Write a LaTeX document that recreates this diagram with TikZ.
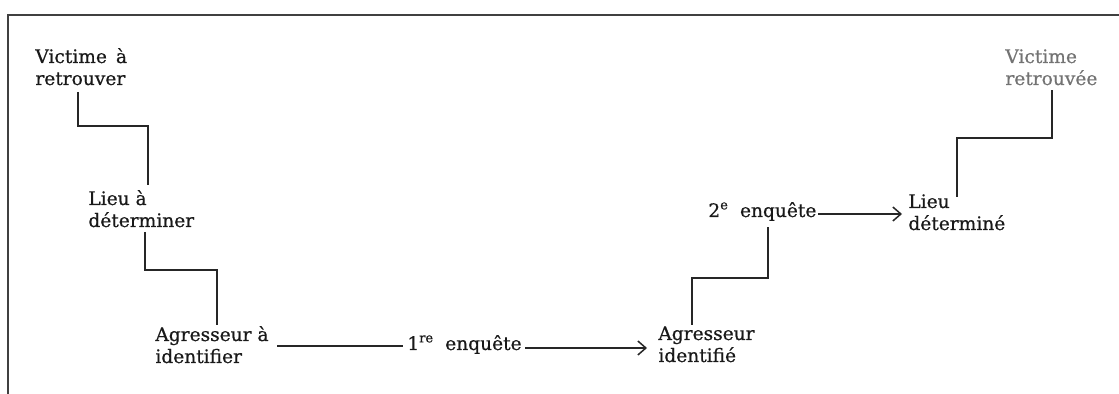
\documentclass[tikz,border=0pt]{standalone}
\usepackage{fontspec}
\setmainfont{DejaVu Serif}
\newfontfamily\printface[RawFeature={embolden=0.6}]{DejaVu Serif}
\usetikzlibrary{arrows.meta}
\begin{document}
\begin{tikzpicture}[x=0.5pt,y=-0.5pt,
  lbl/.style={anchor=base west,inner sep=0pt,align=left,text=black!90,
    font=\printface\fontsize{9.3}{11}\selectfont},
  faded/.style={lbl,text=black!55},
  link/.style={draw=black!85,line width=0.75pt},
  flow/.style={link,-{Straight Barb[length=4pt,width=7pt,line width=0.75pt]}},
  frame/.style={draw=black!75,line width=1.1pt}]
\useasboundingbox (0,0) rectangle (1119,394);
% open frame: top and left edges only
\draw[frame] (1119,15) -- (8,15) -- (8,394);

% states of the search (positioned at the baseline of their last line)
\node[lbl] (vr) at (35,85) {Victime \,à\\retrouver};
\node[lbl] (ld) at (88,227) {Lieu à\\déterminer};
\node[lbl] (ai) at (155,363) {Agresseur à\\identifier};
\node[lbl] (aid) at (658,362) {Agresseur\\identifié};
\node[lbl] (lde) at (908,230) {Lieu\\déterminé};
\node[faded] (vre) at (1005,85) {Victime\\retrouvée};

% the two inquiries
\node[lbl] (e1) at (407,350) {1\textsuperscript{re}\; enquête};
\node[lbl] (e2) at (708,217) {2\textsuperscript{e}\; enquête};

% attachment points of the stepped links
\coordinate (p1) at (78,92);   \coordinate (q1) at (148,185);
\coordinate (p2) at (145,232); \coordinate (q2) at (217,325);
\coordinate (p3) at (692,325); \coordinate (q3) at (768,227);
\coordinate (p4) at (957,197); \coordinate (q4) at (1052,90);

\draw[link] (p1) -- (78,126) -| (q1);
\draw[link] (p2) -- (145,270) -| (q2);
\draw[link] (p3) -- (692,278) -| (q3);
\draw[link] (p4) -- (957,138) -| (q4);

% inquiry arrows
\coordinate (a1) at (277,346);
\coordinate (b1) at (403,346);
\coordinate (a2) at (525,348);
\coordinate (b2) at (647,348);
\coordinate (a3) at (818,214);
\coordinate (b3) at (902,214);
\draw[link] (a1) -- (b1);
\draw[flow] (a2) -- (b2);
\draw[flow] (a3) -- (b3);
\end{tikzpicture}
\end{document}
